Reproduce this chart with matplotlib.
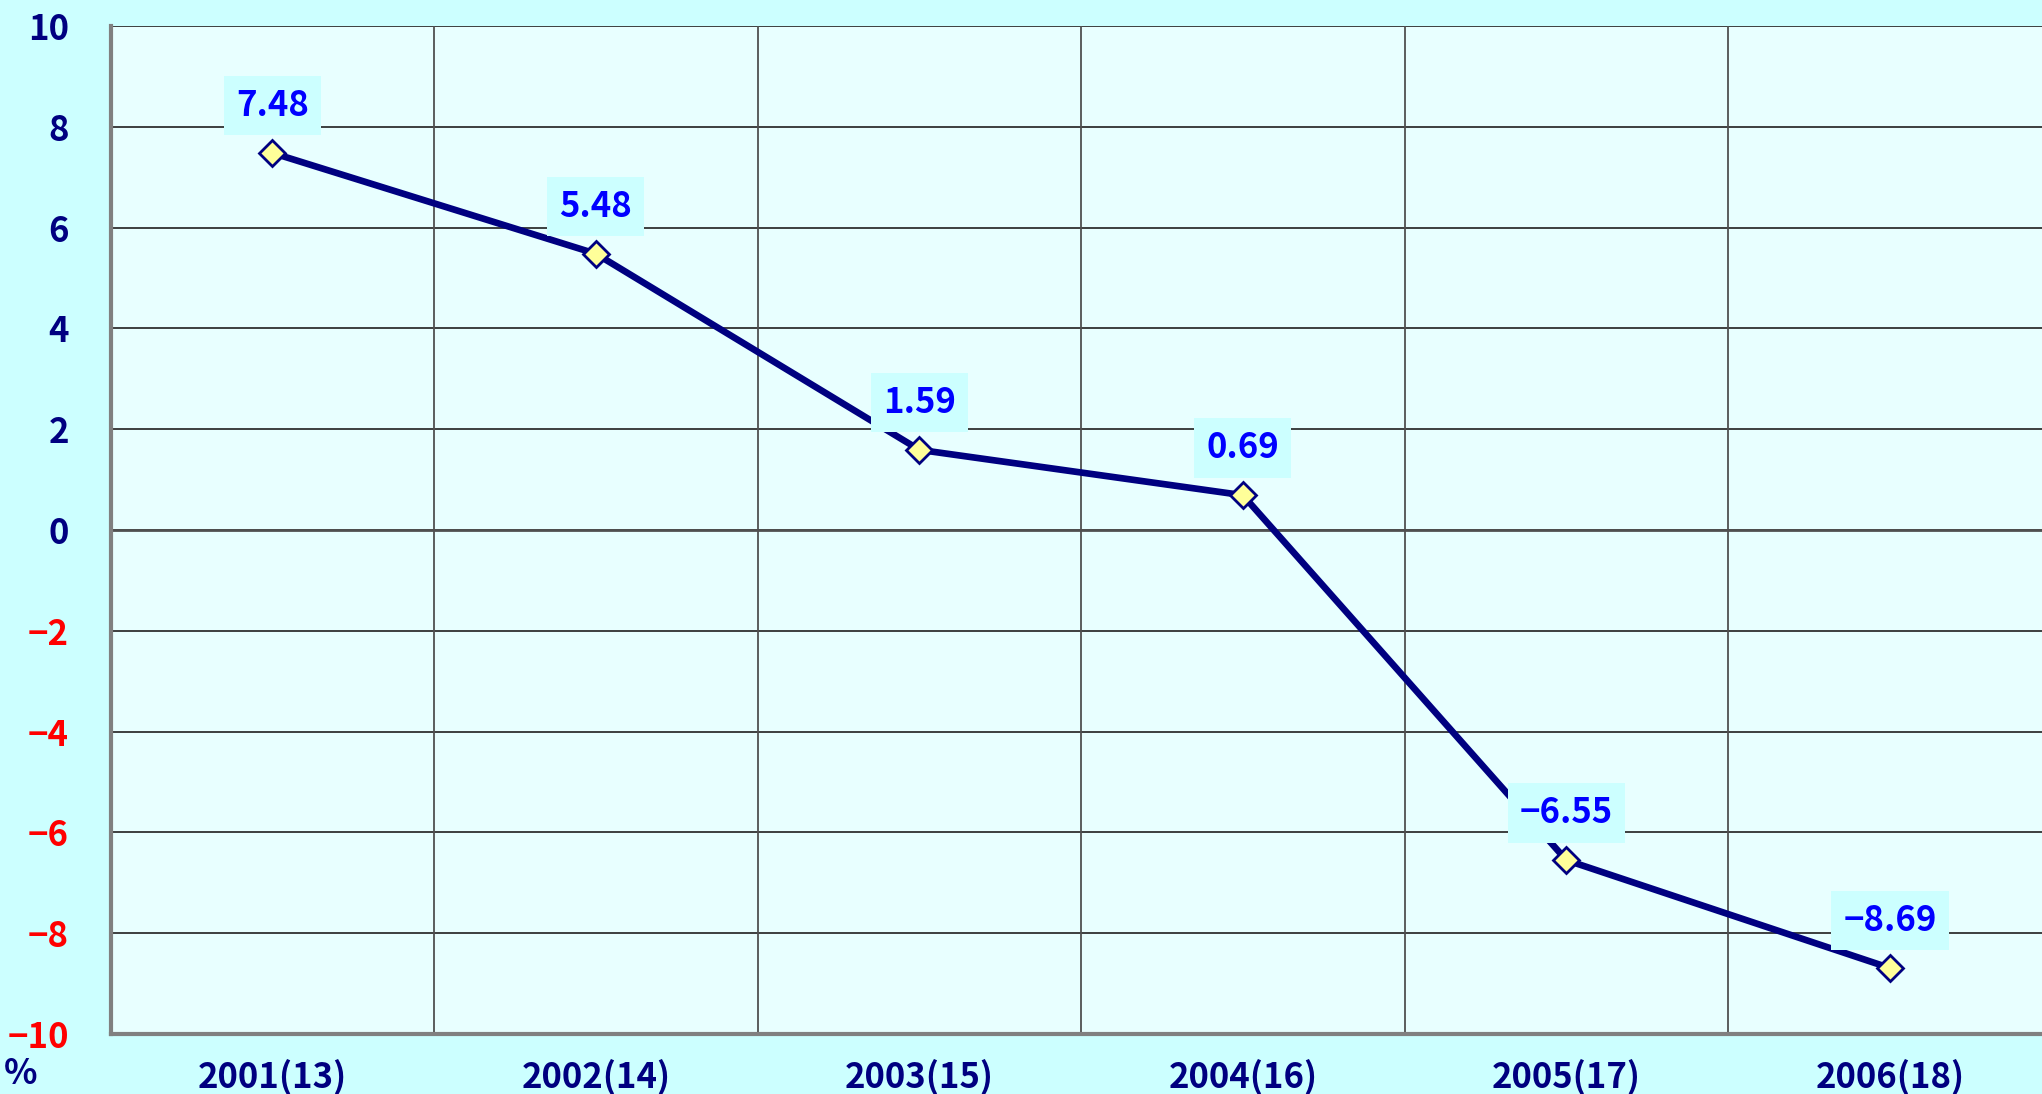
import matplotlib
matplotlib.use('Agg')
import matplotlib.pyplot as plt
import numpy as np

plt.rcParams['font.family'] = ['Noto Sans CJK JP', 'DejaVu Sans']

# data
years = ['2001(13)', '2002(14)', '2003(15)', '2004(16)', '2005(17)', '2006(18)']
values = [7.48, 5.48, 1.59, 0.69, -6.55, -8.69]
yticks = [10, 8, 6, 4, 2, 0, -2, -4, -6, -8, -10]

navy = '#000080'
bg = '#CCFFFF'

fig = plt.figure(figsize=(20.42, 10.94), dpi=100, facecolor=bg)
ax = fig.add_axes([0.0542, 0.0548, 0.9505, 0.9215])
ax.set_facecolor('#E8FFFF')

x = np.arange(len(years))
ax.set_xlim(-0.5, len(years) - 0.5)
ax.set_ylim(-10, 10)

# grid
for yv in yticks:
    ax.axhline(yv, color='#303030', lw=1.3, zorder=1)
for xb in np.arange(0.5, len(years) - 0.5, 1):
    ax.axvline(xb, color='#505050', lw=1.3, zorder=1)
ax.axhline(0, color='#505050', lw=2.0, zorder=1)

ax.plot(x, values, color=navy, lw=4.8, marker='D', markersize=13,
        markerfacecolor='#FFFF99', markeredgecolor=navy, markeredgewidth=2,
        zorder=3)

for xi, v in zip(x, values):
    txt = f'{v:.2f}'.replace('-', '\u2212')
    ax.annotate(txt, (xi, v), xytext=(0, 34), textcoords='offset points',
                ha='center', va='center', fontsize=25, fontweight='bold',
                color='#0000FF', zorder=4,
                bbox=dict(boxstyle='square,pad=0.35', fc=bg, ec='none'))

ax.set_xticks(x)
ax.set_xticklabels(years, fontsize=25, fontweight='bold', color=navy)
ax.set_yticks(yticks)
ax.set_yticklabels([str(t).replace('-', '\u2212') for t in yticks],
                   fontsize=25, fontweight='bold')
for lab, t in zip(ax.get_yticklabels(), yticks):
    lab.set_color('#FF0000' if t < 0 else navy)
ax.tick_params(axis='both', length=0)
ax.tick_params(axis='y', pad=30)
ax.tick_params(axis='x', pad=18)

for side in ['top', 'right']:
    ax.spines[side].set_visible(False)
for side in ['left', 'bottom']:
    ax.spines[side].set_color('#808080')
    ax.spines[side].set_linewidth(3)

fig.text(0.010, 0.003, '%', fontsize=25, fontweight='bold', color=navy,
         ha='center', va='bottom')

fig.savefig('out.png', dpi=100, facecolor=bg)
